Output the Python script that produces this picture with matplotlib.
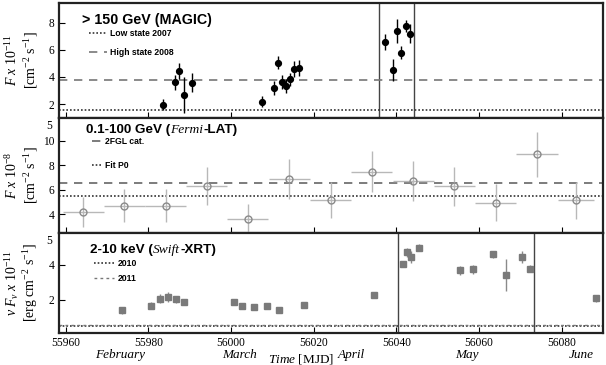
import matplotlib
matplotlib.use("Agg")
import matplotlib.pyplot as plt
import matplotlib.transforms as mtransforms

plt.rcParams['mathtext.fontset'] = 'custom'
plt.rcParams['mathtext.rm'] = 'Liberation Serif'
plt.rcParams['mathtext.it'] = 'Liberation Serif:italic'
plt.rcParams['mathtext.bf'] = 'Liberation Serif:bold'
plt.rcParams['font.family'] = ['Liberation Serif', 'DejaVu Serif']

# ---------------- data ----------------
# MAGIC > 150 GeV
magic_t = [55983.5, 55986.4, 55987.5, 55988.6, 55990.5, 56007.5, 56010.4, 56011.4,
           56012.4, 56013.4, 56014.3, 56015.3, 56016.4, 56037.3, 56039.3, 56040.2,
           56041.2, 56042.3, 56043.2]
magic_f = [1.95, 3.62, 4.41, 2.66, 3.57, 2.17, 3.2, 5.05, 3.62, 3.31, 3.82, 4.6,
           4.66, 6.58, 4.49, 7.39, 5.79, 7.78, 7.19]
magic_e = [0.4, 0.55, 0.6, 1.3, 0.7, 0.4, 0.5, 0.5, 0.5, 0.5, 0.5, 0.6, 0.6,
           0.6, 0.8, 0.9, 0.5, 0.45, 0.7]
magic_low2007 = 1.54
magic_high2008 = 3.77
magic_window = [56035.9, 56044.2]

# Fermi-LAT 0.1-100 GeV
fermi_t = [55964.3, 55974.2, 55984.2, 55994.1, 56004.0, 56014.1, 56024.1, 56034.0,
           56044.1, 56054.0, 56064.0, 56074.0, 56083.4]
fermi_dt = [5, 5, 5, 5, 5, 5, 5, 5, 5, 5, 5, 5, 4.4]
fermi_f = [4.19, 4.68, 4.68, 6.33, 3.65, 6.88, 5.16, 7.48, 6.71, 6.28, 4.93, 8.89, 5.13]
fermi_e = [1.2, 1.35, 1.35, 1.55, 1.2, 1.65, 1.5, 1.64, 1.64, 1.6, 1.5, 1.85, 1.5]
fermi_2fgl = 6.57
fermi_p0 = 5.51

# Swift-XRT 2-10 keV
xrt_t = [55973.7, 55980.6, 55982.7, 55984.7, 55986.7, 55988.7, 56000.6, 56002.7,
         56005.6, 56008.6, 56011.6, 56017.6, 56034.6, 56041.5, 56042.6, 56043.6,
         56045.5, 56055.5, 56058.5, 56063.5, 56066.5, 56070.5, 56072.4, 56088.4]
xrt_f = [1.41, 1.67, 2.06, 2.17, 2.04, 1.85, 1.89, 1.66, 1.58, 1.66, 1.43, 1.71,
         2.25, 4.06, 4.73, 4.46, 4.99, 3.70, 3.75, 4.61, 3.43, 4.47, 3.77, 2.10]
xrt_e = [0.2, 0.2, 0.25, 0.3, 0.2, 0.15, 0.1, 0.1, 0.1, 0.1, 0.1, 0.1,
         0.15, 0.15, 0.25, 0.35, 0.2, 0.25, 0.25, 0.2, 0.9, 0.35, 0.2, 0.2]
xrt_2010 = 0.50
xrt_2011 = 0.56
xrt_window = [56040.3, 56073.4]

xticks = [55960, 55980, 56000, 56020, 56040, 56060, 56080]
months = ['February', 'March', 'April', 'May', 'June']
month_t = [55973.1, 56002.1, 56029.1, 56057.1, 56084.7]

# ---------------- figure ----------------
W, H = 606, 365
fig = plt.figure(figsize=(W / 100, H / 100), dpi=100)

def px_axes(x0, y0, x1, y1):
    return fig.add_axes([x0 / W, 1 - y1 / H, (x1 - x0) / W, (y1 - y0) / H])

L, R = 58.7, 603
ax1 = px_axes(L, 3, R, 118)
ax2 = px_axes(L, 118, R, 233)
ax3 = px_axes(L, 233, R, 333)

xlim = (55958.3, 56090.0)
for ax in (ax1, ax2, ax3):
    ax.set_xlim(*xlim)
    ax.set_xticks(xticks)
    ax.tick_params(direction='in', length=4, width=0.8, labelsize=8.3, pad=3)
    for s in ax.spines.values():
        s.set_linewidth(1.6)
        s.set_color('#222222')
ax1.set_xticklabels([])
ax2.set_xticklabels([])

leg_prop = dict(family='Liberation Sans', weight='bold', size=6.2)

# ---- panel 1: MAGIC
ax1.set_ylim(0.97, 9.45)
ax1.set_yticks([2, 4, 6, 8])
for v in magic_window:
    ax1.axvline(v, color='#444444', lw=1.0)
ax1.axhline(magic_low2007, color='#333333', lw=1.2, ls=(0, (1, 1.2)), label='Low state 2007')
ax1.axhline(magic_high2008, color='#777777', lw=1.2, ls=(0, (5, 4)), label='High state 2008')
ax1.errorbar(magic_t, magic_f, yerr=magic_e, fmt='o', color='black', ms=4.2,
             elinewidth=1.0, capsize=0, zorder=3)
ax1.legend(loc='upper left', bbox_to_anchor=(0.056, 0.77), frameon=False,
           prop=leg_prop, handlelength=2.1, handletextpad=0.3, labelspacing=1.1,
           borderpad=0, borderaxespad=0)

# ---- panel 2: Fermi
ax2.set_ylim(2.47, 11.85)
ax2.set_yticks([4, 6, 8, 10])
ax2.axhline(fermi_2fgl, color='#666666', lw=1.2, ls=(0, (5, 4)), label='2FGL cat.')
ax2.axhline(fermi_p0, color='#333333', lw=1.2, ls=(0, (1, 1.2)), label='Fit P0')
ax2.errorbar(fermi_t, fermi_f, xerr=fermi_dt, yerr=fermi_e, fmt='o', ms=5,
             mfc='none', mec='#8a8a8a', mew=1.0, ecolor='#b8b8b8', elinewidth=1.0,
             capsize=0, zorder=3)
ax2.legend(loc='upper left', bbox_to_anchor=(0.062, 0.832), frameon=False,
           prop=leg_prop, handlelength=1.2, handletextpad=0.3, labelspacing=1.7,
           borderpad=0, borderaxespad=0)

# ---- panel 3: Swift
ax3.set_ylim(0.1, 5.83)
ax3.set_yticks([2, 4])
for v in xrt_window:
    ax3.axvline(v, color='#444444', lw=1.0)
ax3.axhline(xrt_2010, color='#333333', lw=1.2, ls=(0, (1, 1.2)), label='2010')
ax3.axhline(xrt_2011, color='#777777', lw=1.0, ls=(0, (2, 2.3)), label='2011')
ax3.errorbar(xrt_t, xrt_f, yerr=xrt_e, fmt='s', color='#7a7a7a', ms=4,
             elinewidth=1.0, ecolor='#8a8a8a', capsize=0, zorder=3)
ax3.set_xticklabels([str(t) for t in xticks])
ax3.legend(loc='upper left', bbox_to_anchor=(0.064, 0.735), frameon=False,
           prop=leg_prop, handlelength=2.4, handletextpad=0.4, labelspacing=0.65,
           borderpad=0, borderaxespad=0)

# stray "5" labels at panel tops
for ax in (ax2, ax3):
    ax.text(-0.012, 0.985, '5', transform=ax.transAxes, ha='right', va='top',
            fontsize=8.3, clip_on=False)

# ---- titles with mixed fonts
renderer = fig.canvas.get_renderer()

def rich(ax, x, y, pieces, size=10.3):
    off = 0.0
    for s, kind in pieces:
        if kind == 'b':
            kw = dict(family=['Liberation Sans', 'DejaVu Sans'], weight='bold')
        else:
            kw = dict(family=['Liberation Serif'], style='italic', weight='normal')
        tr = mtransforms.offset_copy(ax.transAxes, fig=fig, x=off, y=0, units='dots')
        t = ax.text(x, y, s, transform=tr, ha='left', va='baseline', fontsize=size, **kw)
        off += t.get_window_extent(renderer).width

rich(ax1, 0.042, 0.82, [('> 150 GeV (MAGIC)', 'b')])
rich(ax2, 0.05, 0.872, [('0.1-100 GeV (', 'b'), ('Fermi', 'i'), ('-LAT)', 'b')], size=9.7)
rich(ax3, 0.058, 0.80, [('2-10 keV (', 'b'), ('Swift', 'i'), ('-XRT)', 'b')], size=9.7)

# ---- y labels
ylab = [
    (60, r'$\mathit{F\ x\ 10^{-11}}$', r'[cm$^{-2}$ s$^{-1}$]'),
    (175, r'$\mathit{F\ x\ 10^{-8}}$', r'[cm$^{-2}$ s$^{-1}$]'),
    (283, r'$\nu\ \mathit{F_{\nu}\ x\ 10^{-11}}$', r'[erg cm$^{-2}$ s$^{-1}$]'),
]
for yc, l1, l2 in ylab:
    fig.text(12 / W, 1 - yc / H, l1, rotation=90, ha='center', va='center', fontsize=10)
    fig.text(31 / W, 1 - yc / H, l2, rotation=90, ha='center', va='center', fontsize=10)

# ---- month labels and x label
for m, t in zip(months, month_t):
    ax3.annotate(m, xy=(t, 0), xycoords=('data', 'axes fraction'),
                 xytext=(0, -16), textcoords='offset points', ha='center', va='center',
                 fontsize=9.5, style='italic')
fig.text(301 / W, 1 - 359.5 / H, r'$\mathit{Time}$ [MJD]', ha='center', va='center', fontsize=9.5)

fig.savefig('out.png', dpi=100)
